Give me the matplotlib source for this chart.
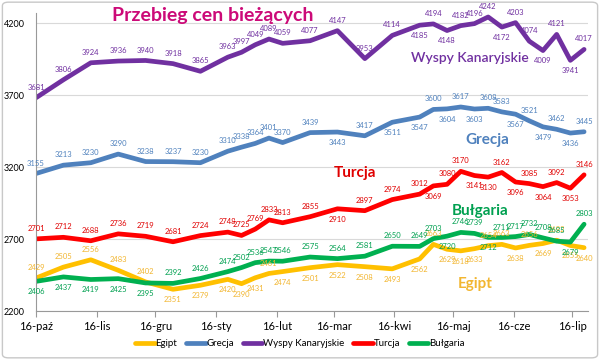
import matplotlib
matplotlib.use("Agg")
import matplotlib.pyplot as plt
from matplotlib.patches import FancyBboxPatch
import pandas as pd

plt.rcParams['font.family'] = ['Lato', 'DejaVu Sans']

# dates of price readings
dates = pd.to_datetime([
    "2015-10-16", "2015-10-30", "2015-11-13", "2015-11-27", "2015-12-11", "2015-12-25",
    "2016-01-08", "2016-01-22", "2016-01-29", "2016-02-05", "2016-02-12", "2016-02-19",
    "2016-03-04", "2016-03-18", "2016-04-01", "2016-04-15", "2016-04-29", "2016-05-06",
    "2016-05-13", "2016-05-20", "2016-05-27", "2016-06-03", "2016-06-10", "2016-06-17",
    "2016-06-24", "2016-07-01", "2016-07-08", "2016-07-15", "2016-07-22"])

egipt = [2429, 2505, 2556, 2483, 2402, 2351, 2379, 2420, 2390, 2431, 2461, 2474,
         2501, 2522, 2508, 2493, 2562, 2663, 2629, 2618, 2633, 2654, 2663, 2638,
         2656, 2669, 2692, 2655, 2640]
grecja = [3155, 3213, 3230, 3290, 3238, 3237, 3230, 3310, 3338, 3364, 3401, 3370,
          3439, 3443, 3417, 3511, 3547, 3600, 3604, 3617, 3603, 3608, 3583, 3567,
          3521, 3479, 3462, 3436, 3445]
wyspy = [3681, 3806, 3924, 3936, 3940, 3918, 3865, 3963, 3997, 4049, 4089, 4059,
         4077, 4147, 3953, 4114, 4185, 4194, 4148, 4182, 4196, 4242, 4172, 4203,
         4074, 4009, 4121, 3941, 4017]
turcja = [2701, 2712, 2688, 2736, 2719, 2681, 2724, 2748, 2725, 2769, 2833, 2813,
          2855, 2910, 2897, 2974, 3012, 3069, 3080, 3170, 3141, 3130, 3162, 3096,
          3085, 3064, 3092, 3053, 3146]
bulgaria = [2406, 2437, 2419, 2425, 2395, 2392, 2426, 2474, 2502, 2536, 2547, 2546,
            2575, 2564, 2581, 2650, 2649, 2703, 2720, 2746, 2739, 2712, 2711, 2717,
            2732, 2708, 2685, 2679, 2803]

tick_labels = ['16-paź', '16-lis', '16-gru', '16-sty', '16-lut', '16-mar',
               '16-kwi', '16-maj', '16-cze', '16-lip']

# label placement: a = above, b = below
series = [
    ("Egipt", egipt, "#FFC000", "#F2B631", "aaaaabbbbbabbbbbbabbbaababab" + "b"),
    ("Grecja", grecja, "#4F81BD", "#4F81BD", "a" * 13 + "babbababaabababa"),
    ("Wyspy Kanaryjskie", wyspy, "#7030A0", "#7030A0", "a" * 16 + "babaaabaababa"),
    ("Turcja", turcja, "#FF0000", "#E00000", "a" * 13 + "baaabaabbabababa"),
    ("Bułgaria", bulgaria, "#00B050", "#00A050", "bbbbb" + "a" * 13 + "baabaaaaaba"),
]

fig = plt.figure(figsize=(6, 3.6), dpi=100)
ax = fig.add_axes([0.06, 0.136, 0.92, 0.828])

for name, vals, col, lcol, pos in series:
    ax.plot(dates, vals, color=col, lw=3.4, label=name, solid_capstyle='round')
    for d, v, p in zip(dates, vals, pos):
        off = 5 if p == "a" else -5
        ax.annotate(str(v), (d, v), xytext=(0, off), textcoords='offset points',
                    ha='center', va='bottom' if p == "a" else 'top',
                    fontsize=5.5, color=lcol)

ax.set_ylim(2200, 4270)
ax.set_yticks([2200, 2700, 3200, 3700, 4200])
ax.set_xlim(pd.Timestamp("2015-10-16"), pd.Timestamp("2016-07-24"))
ticks = pd.date_range("2015-10-16", periods=10, freq=pd.DateOffset(months=1))
ax.set_xticks(ticks)
ax.set_xticklabels(tick_labels)
ax.tick_params(axis='x', labelsize=8, length=4, color='#999999', pad=3)
ax.tick_params(axis='y', labelsize=6.5, length=0, pad=8)
ax.grid(axis='y', color='#d9d9d9', lw=0.8)
ax.set_axisbelow(True)
for s in ['top', 'right']:
    ax.spines[s].set_visible(False)
ax.spines['left'].set_color('#999999')
ax.spines['bottom'].set_color('#999999')

fig.text(213 / 600, 1 - 15 / 360, "Przebieg cen bieżących", color='#CC0A78',
         fontsize=14, fontweight='bold', ha='center', va='center')

fig.text(470 / 600, 1 - 58 / 360, "Wyspy Kanaryjskie", color='#7030A0',
         fontsize=10, fontweight='semibold', ha='center', va='center')
fig.text(487 / 600, 1 - 140 / 360, "Grecja", color='#4F81BD',
         fontsize=11, fontweight='bold', ha='center', va='center')
fig.text(355 / 600, 1 - 173 / 360, "Turcja", color='#E00000',
         fontsize=11, fontweight='bold', ha='center', va='center')
fig.text(480 / 600, 1 - 211 / 360, "Bułgaria", color='#00A050',
         fontsize=11, fontweight='bold', ha='center', va='center')
fig.text(475 / 600, 1 - 284 / 360, "Egipt", color='#F2B631',
         fontsize=11, fontweight='bold', ha='center', va='center')

fig.legend(loc='center', bbox_to_anchor=(0.5, 1 - 344 / 360), ncol=5,
           frameon=False, fontsize=7, handlelength=2.0, handletextpad=0.1,
           columnspacing=0.9)

fig.patches.append(FancyBboxPatch((0.004, 0.006), 0.992, 0.988,
                                  boxstyle='round,pad=0,rounding_size=0.01',
                                  transform=fig.transFigure, fill=False,
                                  ec='#c8c8c8', lw=1))

fig.savefig("out.png", dpi=100)
